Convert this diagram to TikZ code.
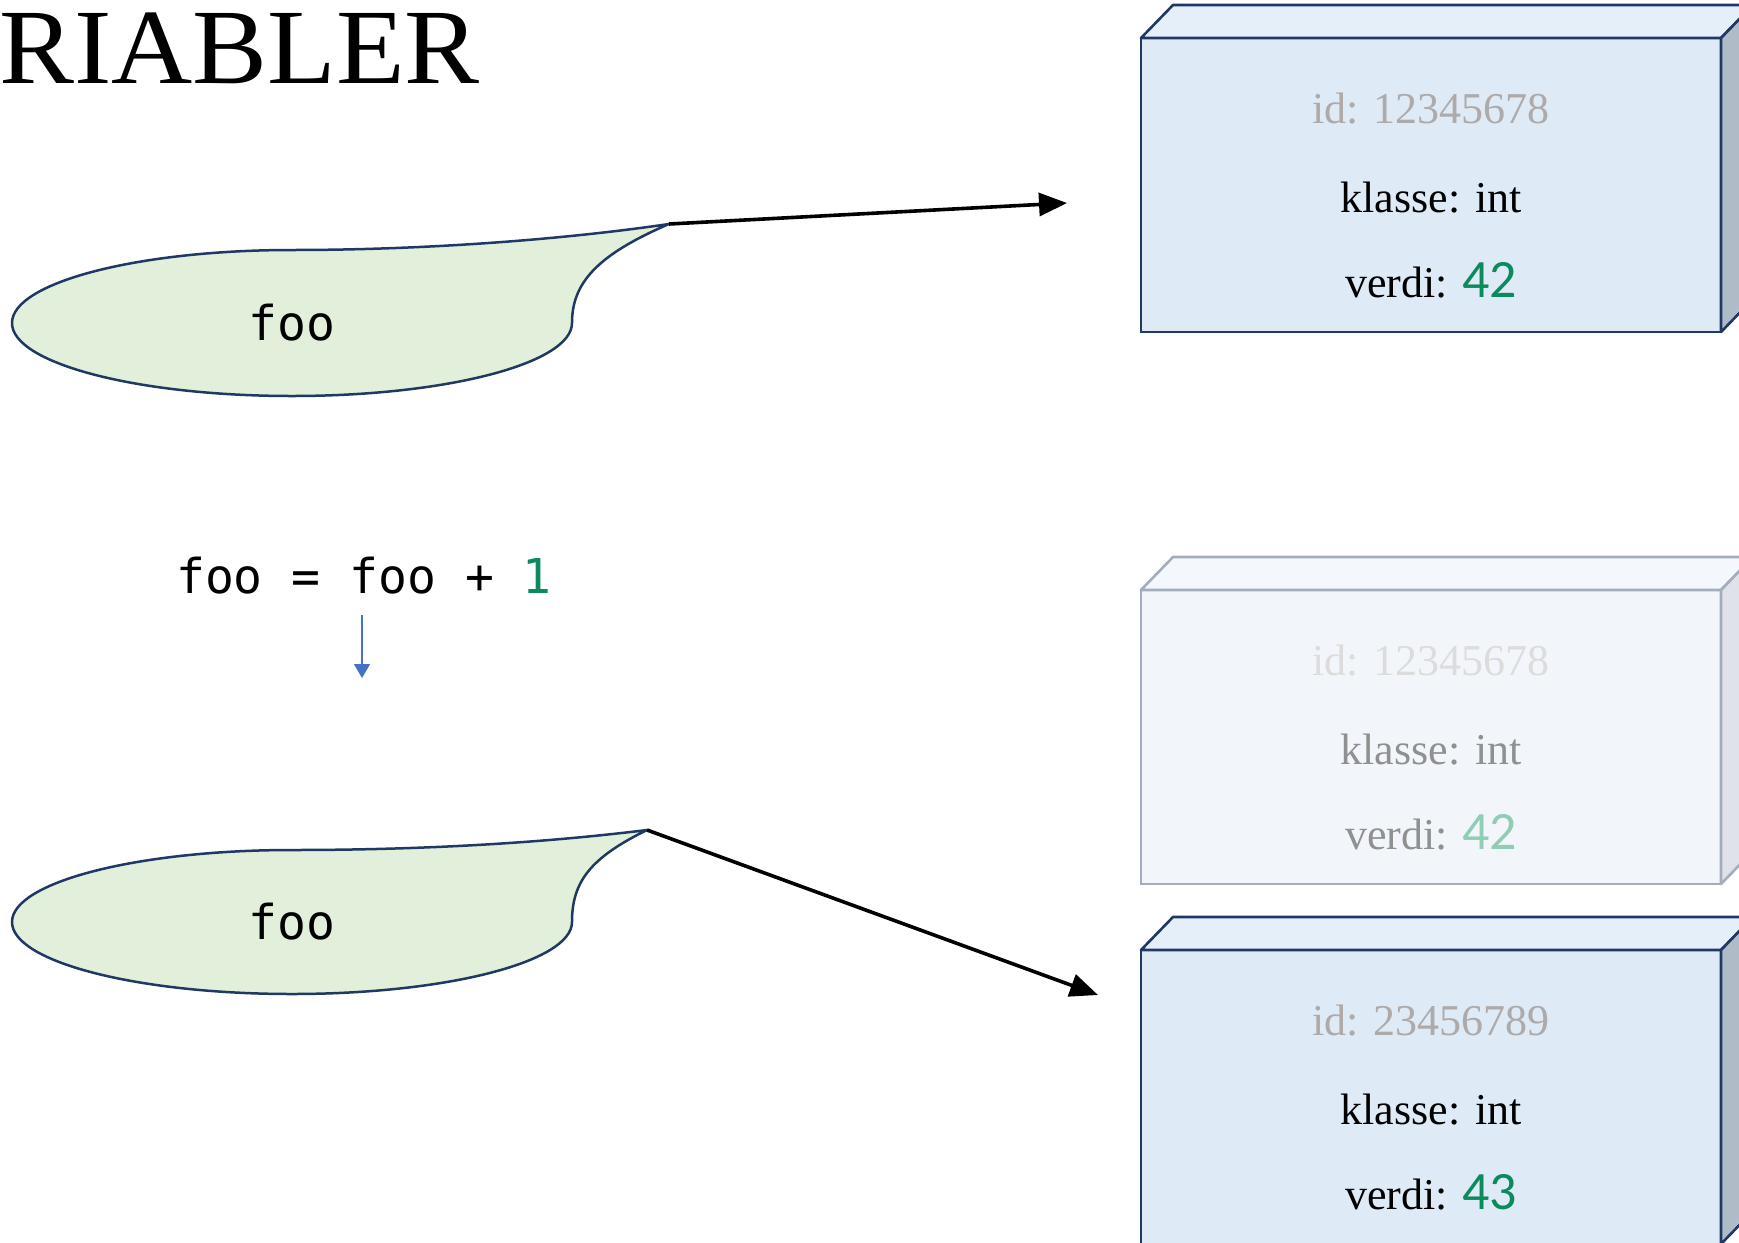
\documentclass[tikz,border=0pt]{standalone}
\usepackage{fontspec}
\setmainfont{Liberation Serif}
\newfontfamily\codefont{DejaVu Sans Mono}
\newfontfamily\numfont{Carlito}
\usetikzlibrary{arrows.meta}

\definecolor{navy}{HTML}{1F3864}
\definecolor{blobgreen}{HTML}{E2EFDA}
\definecolor{facefront}{HTML}{DEEAF6}
\definecolor{facetop}{HTML}{E5EFF9}
\definecolor{faceside}{HTML}{B0BBC8}
\definecolor{fadeline}{HTML}{A3ADBD}
\definecolor{fadefront}{HTML}{F2F6FB}
\definecolor{fadetop}{HTML}{F4F8FC}
\definecolor{fadeside}{HTML}{DFE3E9}
\definecolor{idgrey}{HTML}{AEAAAA}
\definecolor{idfade}{HTML}{DCDCDC}
\definecolor{textfade}{HTML}{8F9090}
\definecolor{valgreen}{HTML}{0B8A5E}
\definecolor{valfade}{HTML}{90CDB4}
\definecolor{flowblue}{HTML}{4472C4}

% one object drawn as a box: #1 name, #2 y of the front top edge,
% #3 front fill, #4 top fill, #5 side fill, #6 line colour
\newcommand\drawobj[6]{%
  \node[objface, fill=#3, draw=#6, anchor=north west] (#1) at (1141,#2) {};
  \filldraw[fill=#4, draw=#6, boxline] (#1.north west) -- ++(32,-33) -- ++(580,0)
    -- (#1.north east) -- cycle;
  \filldraw[fill=#5, draw=#6, boxline] (#1.north east) -- ++(32,-33) -- ++(0,294)
    -- (#1.south east) -- cycle;
}

\tikzset{
  objface/.style={rectangle, minimum width=580pt, minimum height=294pt,
    inner sep=0pt, outer sep=0pt, line width=2.6pt},
  boxline/.style={line width=2.6pt, line join=round},
  blob/.style={draw=navy, fill=blobgreen, line width=2.5pt, line join=round},
  ptr/.style={line width=3.6pt, -{Triangle[length=28pt,width=23pt]}},
  flow/.style={draw=flowblue, line width=1.3pt, -{Triangle[length=14pt,width=16pt]}},
  code/.style={font=\codefont\fontsize{48}{48}\selectfont, inner sep=0pt},
  idtxt/.style={anchor=base, inner sep=0pt, font=\fontsize{44}{44}\selectfont},
  rowtxt/.style={anchor=base, inner sep=0pt, font=\fontsize{44}{44}\selectfont},
}

\begin{document}
\begin{tikzpicture}[x=1pt,y=-1pt]
\useasboundingbox (0,0) rectangle (1739,1242);
\clip (0,0) rectangle (1739,1242);

% heading
\node[anchor=base west, inner sep=0pt, xscale=1.05,
  font=\fontsize{107}{107}\selectfont] (title) at (-1,83) {RIABLER};

% objects
\drawobj{obj1}{38}{facefront}{facetop}{faceside}{navy}
\node[idtxt, text=idgrey] (obj1id) at (1431,123) {id: 12345678};
\node[rowtxt] (obj1cls) at (1431,212) {klasse: int};
\node[rowtxt] (obj1val) at (1431,297) {verdi: {\numfont\fontsize{54}{54}\selectfont\color{valgreen}42}};

\drawobj{obj2}{590}{fadefront}{fadetop}{fadeside}{fadeline}
\node[idtxt, text=idfade] (obj2id) at (1431,675) {id: 12345678};
\node[rowtxt, text=textfade] (obj2cls) at (1431,764) {klasse: int};
\node[rowtxt, text=textfade] (obj2val) at (1431,849) {verdi: {\numfont\fontsize{54}{54}\selectfont\color{valfade}42}};

\drawobj{obj3}{950}{facefront}{facetop}{faceside}{navy}
\node[idtxt, text=idgrey] (obj3id) at (1431,1035) {id: 23456789};
\node[rowtxt] (obj3cls) at (1431,1124) {klasse: int};
\node[rowtxt] (obj3val) at (1431,1209) {verdi: {\numfont\fontsize{54}{54}\selectfont\color{valgreen}43}};

% first name tag
\begin{scope}[shift={(292,323)}]
  \filldraw[blob] (0,-73) .. controls (-154.6,-73) and (-280,-40.3) .. (-280,0)
    .. controls (-280,40.3) and (-154.6,73) .. (0,73)
    .. controls (154.6,73) and (280,40.3) .. (280,0)
    .. controls (280,-40) and (305,-68) .. (377,-99)
    .. controls (268,-83) and (130,-73) .. (0,-73) -- cycle;
  \coordinate (tip1) at (377,-99);
  \node[code] (var1) at (0,0) {foo};
\end{scope}

% second name tag
\begin{scope}[shift={(292,922)}]
  \filldraw[blob] (0,-72) .. controls (-154.6,-72) and (-280,-39.8) .. (-280,0)
    .. controls (-280,39.8) and (-154.6,72) .. (0,72)
    .. controls (154.6,72) and (280,39.8) .. (280,0)
    .. controls (280,-40) and (298,-64) .. (355,-92)
    .. controls (250,-79) and (130,-72) .. (0,-72) -- cycle;
  \coordinate (tip2) at (355,-92);
  \node[code] (var2) at (0,0) {foo};
\end{scope}

% references
\coordinate (ref1) at (1067,203);
\coordinate (ref2) at (1098,995);
\draw[ptr] (tip1) -- (ref1);
\draw[ptr] (tip2) -- (ref2);

% statement and step arrow
\node[code, anchor=base west] (stmt) at (176,593) {foo = foo + {\color{valgreen}1}};
\coordinate (flowA) at (362,615);
\coordinate (flowB) at (362,678);
\draw[flow] (flowA) -- (flowB);
\end{tikzpicture}
\end{document}
